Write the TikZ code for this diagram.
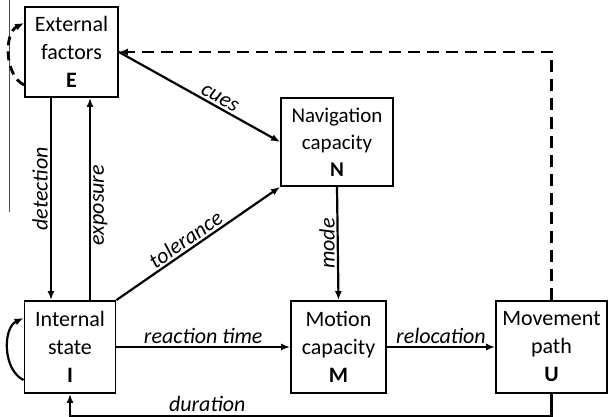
\documentclass[tikz,border=0pt]{standalone}
\usepackage{fontspec}
\setmainfont{Carlito}
\usetikzlibrary{arrows.meta,calc}
\begin{document}
\begin{tikzpicture}[x=1pt,y=-1pt,
  box/.style={draw,line width=1.8pt,align=center,inner sep=0pt,
    font=\fontsize{22}{28}\selectfont},
  arr/.style={line width=2.2pt,-{Latex[length=9pt,width=7pt]}},
  dashline/.style={line width=2.8pt,dash pattern=on 12pt off 7pt},
  lbl/.style={font=\fontsize{22}{24}\selectfont\itshape,inner sep=2pt}]
\useasboundingbox (0,0) rectangle (613,417);
% boxes
\node[box,minimum width=93pt,minimum height=90pt] (E) at (71.5,52) {External\\factors\\\textbf{E}};
\node[box,minimum width=112pt,minimum height=88pt,font=\fontsize{21}{27}\selectfont] (N) at (337,142) {Navigation\\capacity\\\textbf{N}};
\node[box,minimum width=91pt,minimum height=92pt] (I) at (70,347) {Internal\\state\\\textbf{I}};
\node[box,minimum width=95pt,minimum height=92pt] (M) at (338.5,347) {Motion\\capacity\\\textbf{M}};
\node[box,minimum width=111pt,minimum height=92pt] (U) at (551.5,347) {Movement\\path\\\textbf{U}};
% helper coordinates
\coordinate (dx) at (51,0);
\coordinate (ex) at (90,0);
\coordinate (tl) at (9,0);
\coordinate (bl) at (9,212);
% thin stray line
\draw[line width=0.6pt,black!70] (tl) -- (bl);
% E <-> I
\draw[arr] (dx |- E.south) -- (dx |- I.north)
  node[lbl,pos=0.45,rotate=90,anchor=south] {detection};
\draw[arr] (ex |- I.north) -- (ex |- E.south)
  node[lbl,pos=0.47,rotate=90,anchor=north] {exposure};
% cues
\draw[arr] (E.east) -- (N.west)
  node[lbl,pos=0.6,sloped,above] {cues};
% tolerance
\draw[arr] (I.north east) -- (N.south west)
  node[lbl,pos=0.46,sloped,above] {tolerance};
% mode
\draw[arr] (N.south) -- (M.north)
  node[lbl,midway,rotate=90,anchor=south] {mode};
% reaction time, relocation
\draw[arr] (I.east) -- (M.west)
  node[lbl,midway,above] {reaction time};
\draw[arr] (M.east) -- (U.west)
  node[lbl,midway,above] {relocation};
% dashed feedback U -> E
\draw[arr,dashline] (U.north) |- (E.east);
% duration
\draw[arr] (U.south) -- ++(0,22) coordinate (ub) -- (I.south |- ub)
  node[lbl,pos=0.715,above,inner sep=3pt] {duration} -- (I.south);
% self loops
\draw[arr,dashline,dash pattern=on 9pt off 6pt] ($(E.west)+(0,33)$) .. controls ($(E.west)+(-20,23)$) and ($(E.west)+(-20,-19)$) .. ($(E.west)+(0,-29)$);
\draw[arr] ($(I.west)+(0,33)$) .. controls ($(I.west)+(-21,23)$) and ($(I.west)+(-21,-19)$) .. ($(I.west)+(0,-29)$);
\end{tikzpicture}
\end{document}
